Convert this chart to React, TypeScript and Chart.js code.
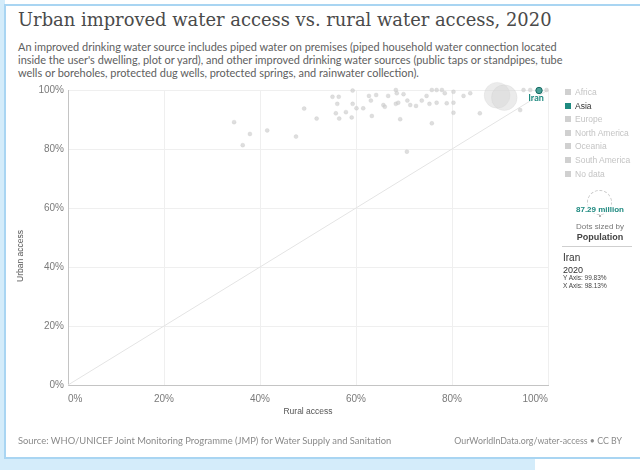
import React, { useEffect, useRef } from "react";
import { Chart, registerables } from "chart.js";

Chart.register(...registerables);

// ---- Data ----
const ruralAccess = [
  34.6, 37.9, 36.4, 41.5, 47.5, 49.2, 51.8, 55.1, 56.4, 59.3,
  56.1, 59.3, 60.1, 55.8, 57.9, 56.5, 59.1, 61.5, 62.7, 63.1,
  64.2, 63.3, 65.7, 66.0, 66.7, 68.3, 68.5, 68.3, 68.8, 69.9,
  70.7, 71.3, 69.2, 70.6, 72.5, 73.7, 74.7, 75.3, 75.8, 76.8,
  76.8, 77.9, 78.5, 78.9, 80.3, 80.3, 80.3, 75.8, 82.4, 83.8,
  85.8, 94.2, 94.9, 96.3, 99.7,
];
const urbanAccess = [
  89.1, 85.1, 81.3, 86.3, 84.2, 93.7, 90.3, 97.7, 97.7, 99.8,
  95.3, 95.3, 93.8, 92.1, 92.5, 90.3, 90.7, 93.8, 98.0, 96.4,
  98.3, 91.2, 94.9, 94.3, 98.0, 100, 98.9, 95.3, 95.7, 98.6,
  96.4, 94.9, 90.1, 79.1, 94.6, 96.4, 98.0, 95.3, 100, 100,
  95.7, 100, 98.9, 95.5, 95.7, 99.4, 92.3, 88.7, 98.0, 98.9,
  92.1, 93.2, 100, 100, 100,
];
const largeCountries = ["China", "India"];
const largeRural = [89.4, 90.9];
const largeUrban = [98.2, 97.4];
const largePopulation = [1425.9, 1396.4];

const highlightCountry = "Iran";
const highlightRural = [98.13];
const highlightUrban = [99.83];
const highlightPopulation = [87.29];

const axisTicks = [0, 20, 40, 60, 80, 100];
const continents = ["Africa", "Asia", "Europe", "North America", "Oceania", "South America", "No data"];
const activeContinent = "Asia";

const TEAL = "#1f8a80";
const radiusFor = (pop: number) => 3.2 * Math.sqrt(pop / 87.29);

const FONT = "'Liberation Sans', Arial, sans-serif";
const LATO = "Lato, 'Noto Sans', Arial, sans-serif";

export default function App() {
  const canvasRef = useRef<HTMLCanvasElement | null>(null);

  useEffect(() => {
    if (!canvasRef.current) return;
    const labelPlugin = {
      id: "highlightLabel",
      afterDatasetsDraw(chart: any) {
        const meta = chart.getDatasetMeta(3);
        if (!meta || !meta.data[0]) return;
        const pt = meta.data[0];
        const ctx = chart.ctx;
        ctx.save();
        ctx.font = "bold 9px " + LATO;
        ctx.fillStyle = TEAL;
        ctx.textAlign = "center";
        ctx.textBaseline = "top";
        ctx.fillText(highlightCountry, pt.x - 3, pt.y + 3);
        ctx.restore();
      },
    };

    const chart = new Chart(canvasRef.current, {
      type: "scatter",
      data: {
        datasets: [
          {
            type: "line" as any,
            data: [
              { x: 0, y: 0 },
              { x: 100, y: 100 },
            ],
            borderColor: "#e4e4e4",
            borderWidth: 1,
            pointRadius: 0,
            order: 5,
          },
          {
            data: largeRural.map((x, i) => ({ x, y: largeUrban[i] })),
            pointRadius: largePopulation.map(radiusFor),
            backgroundColor: "rgba(215,215,215,0.5)",
            borderColor: "rgba(200,200,200,0.4)",
            borderWidth: 0.5,
            order: 3,
          },
          {
            data: ruralAccess.map((x, i) => ({ x, y: urbanAccess[i] })),
            pointRadius: 2,
            backgroundColor: "rgba(208,208,208,0.7)",
            borderColor: "rgba(190,190,190,0.5)",
            borderWidth: 0.5,
            order: 2,
          },
          {
            data: highlightRural.map((x, i) => ({ x, y: highlightUrban[i] })),
            pointRadius: highlightPopulation.map(radiusFor),
            backgroundColor: "rgba(31,138,128,0.8)",
            borderColor: "#146a62",
            borderWidth: 1,
            order: 1,
          },
        ],
      },
      options: {
        responsive: false,
        animation: false,
        devicePixelRatio: 1,
        clip: false as any,
        layout: { padding: { left: 0, right: 92, top: 90, bottom: 45 } },
        plugins: { legend: { display: false }, tooltip: { enabled: false } },
        scales: {
          x: {
            type: "linear",
            min: 0,
            max: 100,
            afterFit: (s: any) => {
              s.height = 40;
            },
            afterBuildTicks: (s: any) => {
              s.ticks = axisTicks.map((v) => ({ value: v }));
            },
            grid: { color: "#efefef", drawTicks: false, lineWidth: 1 },
            border: { color: "#c4c4c4", width: 1 },
            ticks: {
              align: "inner",
              padding: 8,
              color: "#7a7a7a",
              font: { family: FONT, size: 10 },
              callback: (v: any) => v + "%",
            },
            title: {
              display: true,
              text: "Rural access",
              color: "#555",
              font: { family: FONT, size: 8.5 },
              padding: { top: 0, bottom: 8 },
            },
          },
          y: {
            type: "linear",
            min: 0,
            max: 100,
            afterFit: (s: any) => {
              s.width = 68;
            },
            afterBuildTicks: (s: any) => {
              s.ticks = axisTicks.map((v) => ({ value: v }));
            },
            grid: { color: "#efefef", drawTicks: false, lineWidth: 1 },
            border: { color: "#c4c4c4", width: 1 },
            ticks: {
              padding: 4,
              color: "#7a7a7a",
              font: { family: FONT, size: 10 },
              callback: (v: any) => v + "%",
            },
          },
        },
      },
      plugins: [labelPlugin],
    });
    return () => chart.destroy();
  }, []);

  const abs = (l: number, t: number, extra: React.CSSProperties = {}): React.CSSProperties => ({
    position: "absolute",
    left: l,
    top: t,
    whiteSpace: "nowrap",
    fontFamily: FONT,
    ...extra,
  });

  return (
    <div style={{ position: "fixed", left: 0, top: 0, width: 640, height: 470, background: "#ffffff", overflow: "hidden" }}>
      <div style={{ position: "absolute", left: 0, top: 0, width: 5, height: 470, background: "#d4ecfa" }} />
      <div style={{ position: "absolute", left: 0, top: 458, width: 535, height: 12, background: "#d4ecfa" }} />
      <div
        style={{
          position: "absolute",
          left: 4,
          top: 4,
          width: 650,
          height: 451,
          background: "#fff",
          borderTop: "2px solid #a9d5f2",
          borderLeft: "2px solid #a9d5f2",
          borderBottom: "2px solid #a9d5f2",
        }}
      />

      <div style={abs(18, 9, { fontFamily: "'DejaVu Serif', serif", fontSize: 17.9, color: "#4a4a4a" })}>
        Urban improved water access vs. rural water access, 2020
      </div>
      <div style={abs(18, 40, { fontFamily: LATO, fontSize: 10.95, lineHeight: "13px", color: "#606060" })}>
        <div>An improved drinking water source includes piped water on premises (piped household water connection located</div>
        <div>inside the user's dwelling, plot or yard), and other improved drinking water sources (public taps or standpipes, tube</div>
        <div>wells or boreholes, protected dug wells, protected springs, and rainwater collection).</div>
      </div>

      <canvas ref={canvasRef} width={640} height={470} style={{ position: "absolute", left: 0, top: 0, width: 640, height: 470 }} />

      <div
        style={abs(20, 256, {
          fontSize: 8.5,
          color: "#555",
          transform: "translate(-50%, -50%) rotate(-90deg)",
        })}
      >
        Urban access
      </div>

      {continents.map((c, i) => {
        const active = c === activeContinent;
        return (
          <div key={c} style={abs(565, 87 + i * 13.6, { fontSize: 8.5, color: active ? "#333" : "#c4c4c4", display: "flex", alignItems: "center" })}>
            <span style={{ display: "inline-block", width: 6, height: 6, background: active ? TEAL : "#d0d0d0", marginRight: 4 }} />
            {c}
          </div>
        );
      })}

      <div style={{ position: "absolute", left: 587, top: 190, width: 25, height: 25, borderRadius: "50%", border: "1px dashed #c8c8c8", boxSizing: "border-box" }} />
      <div style={abs(600, 209, { transform: "translate(-50%, -50%)", fontSize: 8, color: TEAL, fontWeight: 700, background: "rgba(255,255,255,0.7)" })}>
        87.29 million
      </div>
      <div style={{ position: "absolute", left: 599, top: 215, width: 2, height: 2, borderRadius: "50%", background: "#999" }} />
      <div style={abs(600, 226, { transform: "translate(-50%, -50%)", fontSize: 8, color: "#777" })}>Dots sized by</div>
      <div style={abs(600, 237, { transform: "translate(-50%, -50%)", fontSize: 9, color: "#444", fontWeight: 700 })}>Population</div>
      <div style={{ position: "absolute", left: 562, top: 246, width: 70, height: 1, background: "#cfcfcf" }} />
      <div style={abs(563, 252, { fontSize: 10, color: "#333" })}>{highlightCountry}</div>
      <div style={abs(563, 265, { fontSize: 9, color: "#333" })}>2020</div>
      <div style={abs(563, 274, { fontSize: 6.5, color: "#444", lineHeight: "7.5px" })}>
        <div>Y Axis: {highlightUrban[0].toFixed(2)}%</div>
        <div>X Axis: {highlightRural[0].toFixed(2)}%</div>
      </div>

      <div style={abs(18, 435, { fontFamily: LATO, fontSize: 9.4, color: "#8a8a8a" })}>
        Source: WHO/UNICEF Joint Monitoring Programme (JMP) for Water Supply and Sanitation
      </div>
      <div style={{ position: "absolute", right: 18, top: 435, whiteSpace: "nowrap", fontFamily: LATO, fontSize: 8.8, color: "#8a8a8a" }}>
        OurWorldInData.org/water-access • CC BY
      </div>
    </div>
  );
}
